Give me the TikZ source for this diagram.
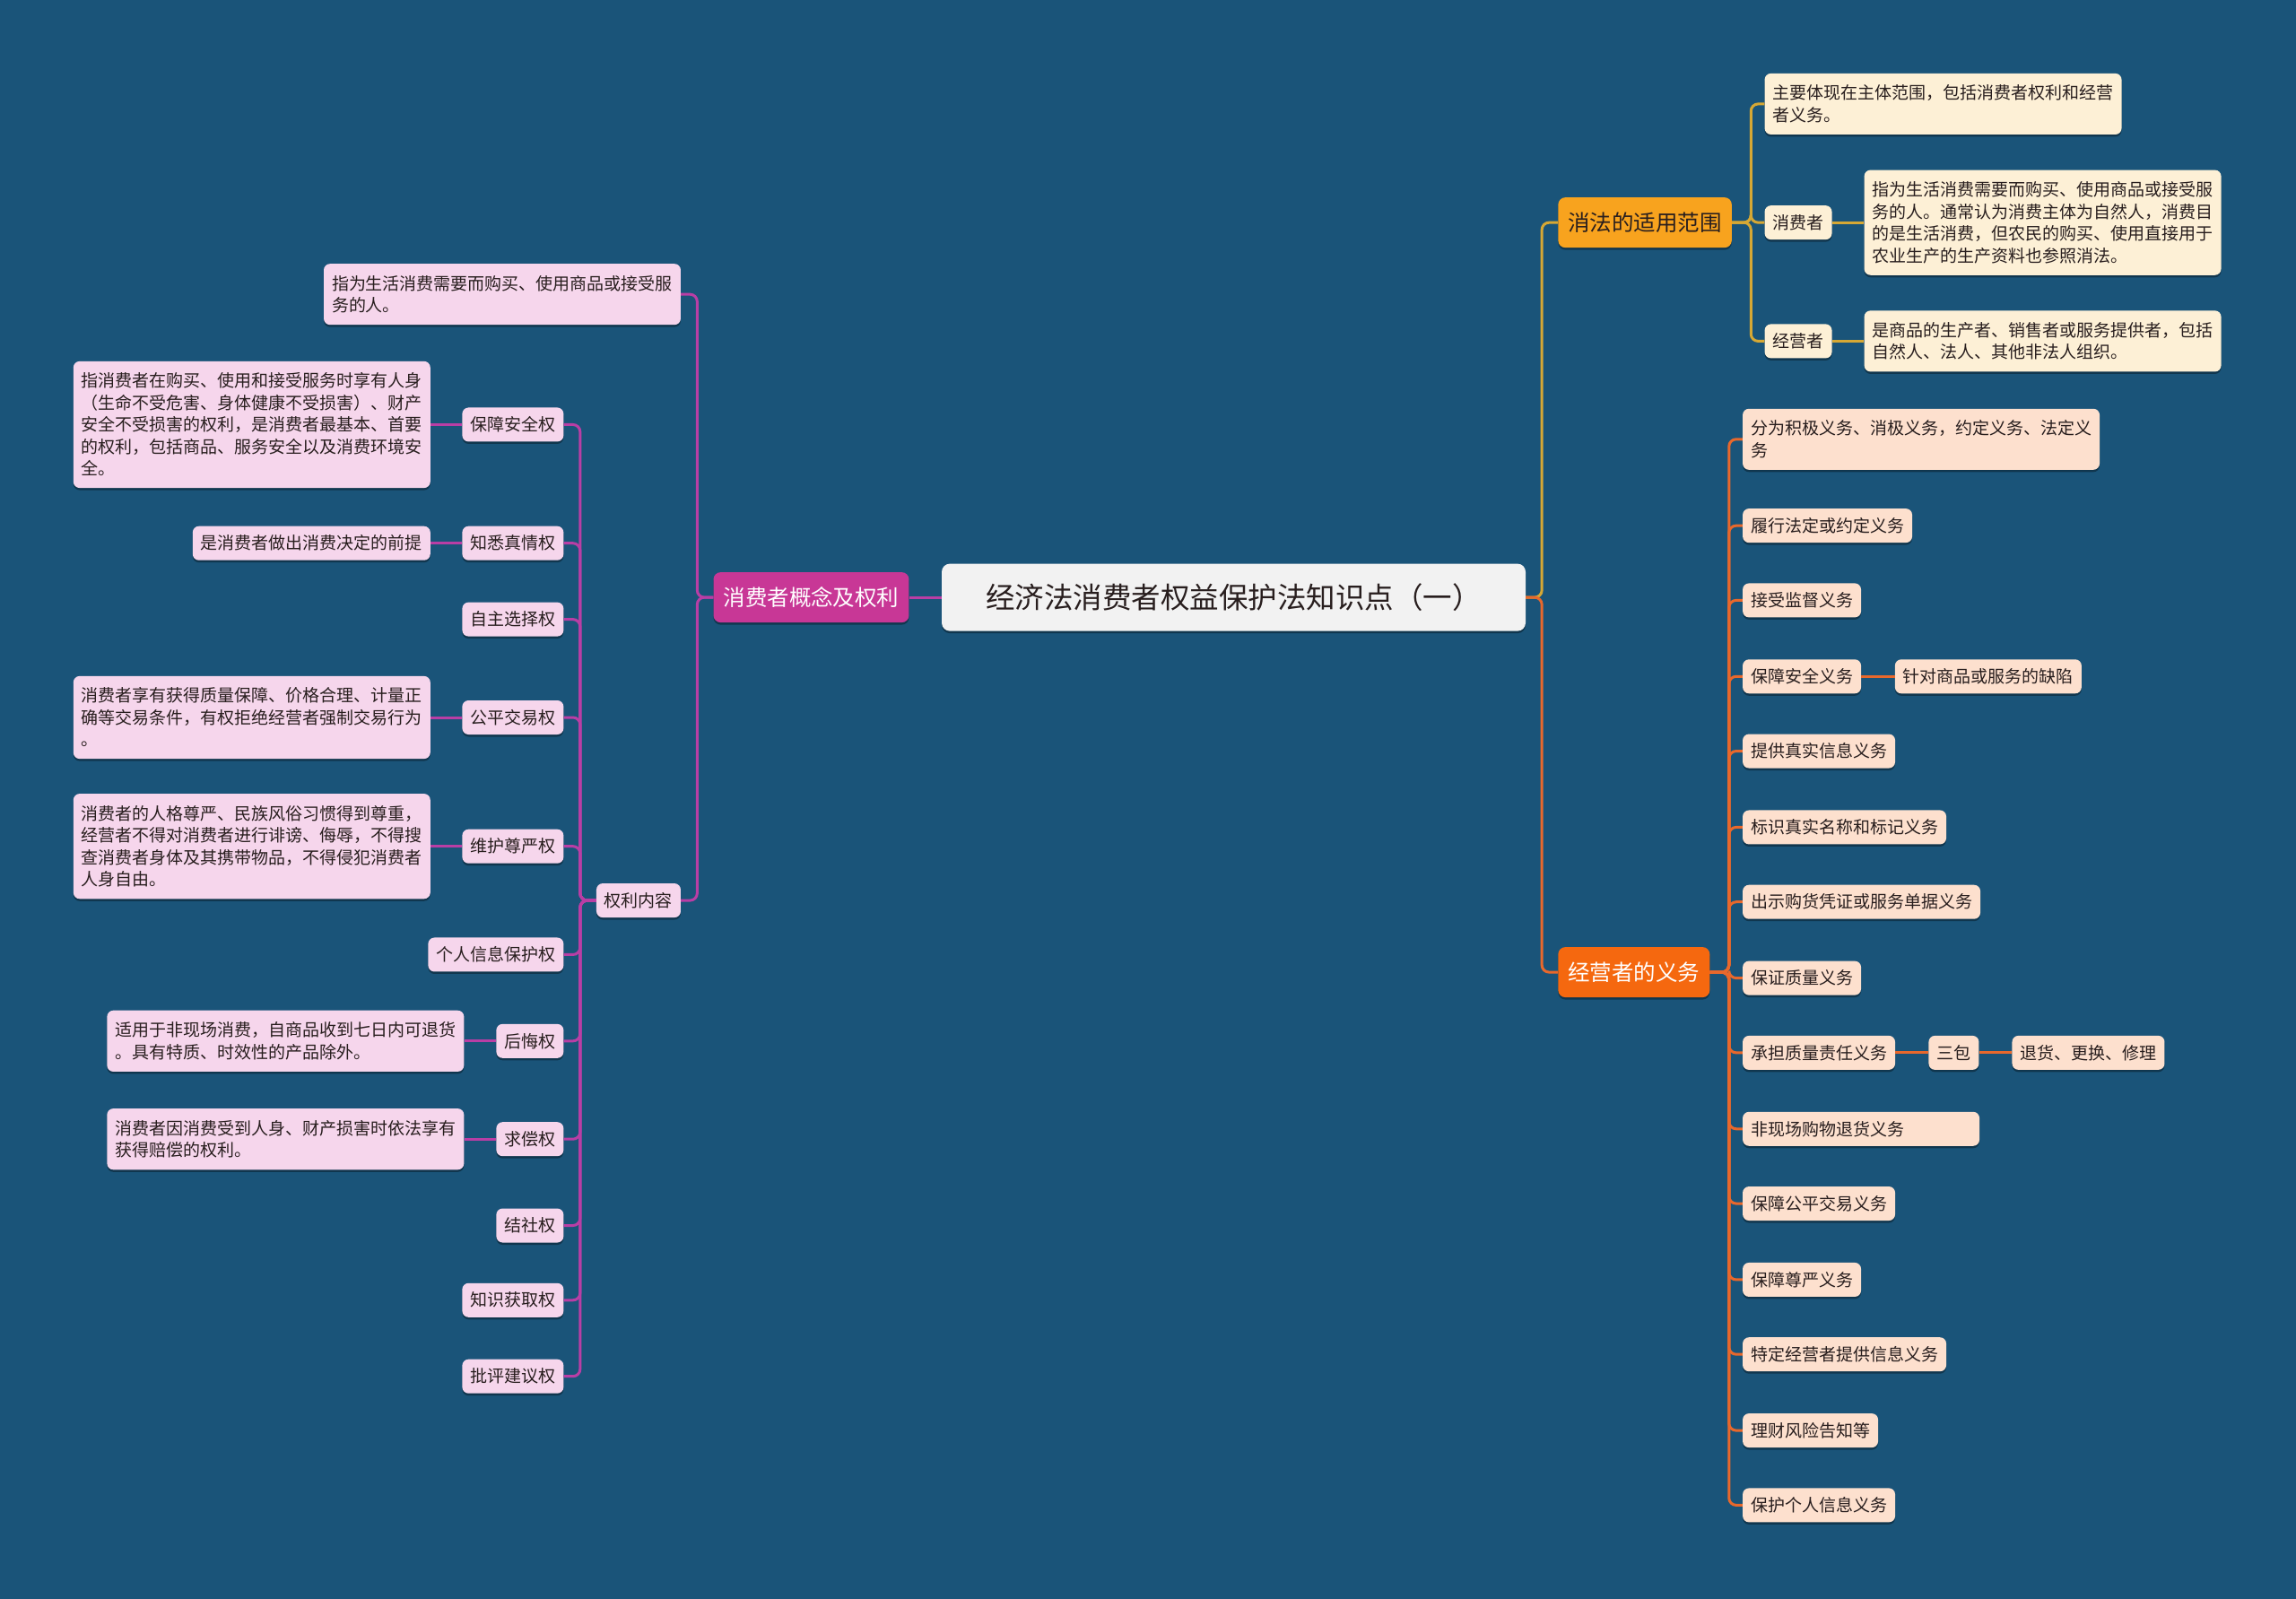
\documentclass[tikz,border=0pt]{standalone}
\usepackage{fontspec}
\setmainfont{Noto Sans CJK SC}
\usetikzlibrary{shadows}
\definecolor{bg}{RGB}{26,84,121}
\definecolor{magline}{RGB}{185,62,165}
\definecolor{magfill}{RGB}{200,55,150}
\definecolor{pinkfill}{RGB}{246,214,236}
\definecolor{yelline}{RGB}{214,168,52}
\definecolor{yelfill}{RGB}{248,163,30}
\definecolor{creamfill}{RGB}{253,240,214}
\definecolor{orline}{RGB}{232,104,44}
\definecolor{orfill}{RGB}{245,104,15}
\definecolor{peachfill}{RGB}{253,224,206}
\definecolor{txt}{RGB}{40,30,30}
\tikzset{
  shad/.style={drop shadow={shadow xshift=0pt,shadow yshift=-2.5pt,opacity=0.35,fill=black}},
  basebox/.style={rounded corners=7pt, shad, align=left},
  leaf/.style={basebox, inner xsep=9pt, inner ysep=8pt, minimum height=38pt,
    font=\fontsize{19}{24.5}\selectfont, text=txt},
  multi/.style={inner ysep=13pt},
  pleaf/.style={leaf, fill=pinkfill},
  cleaf/.style={leaf, fill=creamfill},
  oleaf/.style={leaf, fill=peachfill},
  branch/.style={basebox, rounded corners=8pt, inner xsep=11pt, minimum height=56pt,
    font=\fontsize{24.5}{30}\selectfont},
  centre/.style={basebox, rounded corners=9pt, fill=black!5, minimum width=651pt,
    minimum height=75pt, font=\fontsize{32.5}{36}\selectfont, text=txt, align=center},
  mline/.style={draw=magline, line width=3pt, rounded corners=8pt},
  yline/.style={draw=yelline, line width=3pt, rounded corners=8pt},
  oline/.style={draw=orline, line width=3pt, rounded corners=8pt},
}
\begin{document}
\begin{tikzpicture}[x=1.6327pt,y=-1.6327pt]
\fill[bg] (0,0) rectangle (1568,1092);
\useasboundingbox (0,0) rectangle (1568,1092);

% centre and main branches
\node[centre] (ctr) at (842.5,408) {经济法消费者权益保护法知识点（一）};
\node[branch, fill=magfill, text=white] (L0) at (554,408) {消费者概念及权利};
\node[branch, fill=yelfill, text=txt, anchor=west] (R1) at (1064,152) {消法的适用范围};
\node[branch, fill=orfill, text=white, anchor=west] (R2) at (1064,664) {经营者的义务};

% left side
\node[pleaf, multi, anchor=east] (Ltop) at (465,201) {指为生活消费需要而购买、使用商品或接受服\\务的人。};
\node[pleaf, anchor=east] (Lrc) at (465,615) {权利内容};

\node[pleaf, anchor=east] (c1) at (385,290) {保障安全权};
\node[pleaf, anchor=east] (c2) at (385,371) {知悉真情权};
\node[pleaf, anchor=east] (c3) at (385,423) {自主选择权};
\node[pleaf, anchor=east] (c4) at (385,490) {公平交易权};
\node[pleaf, anchor=east] (c5) at (385,578) {维护尊严权};
\node[pleaf, anchor=east] (c6) at (385,652) {个人信息保护权};
\node[pleaf, anchor=east] (c7) at (385,711) {后悔权};
\node[pleaf, anchor=east] (c8) at (385,778) {求偿权};
\node[pleaf, anchor=east] (c9) at (385,837) {结社权};
\node[pleaf, anchor=east] (c10) at (385,888) {知识获取权};
\node[pleaf, anchor=east] (c11) at (385,940) {批评建议权};

\node[pleaf, multi, anchor=east] (d1) at (294,290) {指消费者在购买、使用和接受服务时享有人身\\（生命不受危害、身体健康不受损害）、财产\\安全不受损害的权利，是消费者最基本、首要\\的权利，包括商品、服务安全以及消费环境安\\全。};
\node[pleaf, anchor=east] (d2) at (294,371) {是消费者做出消费决定的前提};
\node[pleaf, multi, anchor=east] (d4) at (294,490) {消费者享有获得质量保障、价格合理、计量正\\确等交易条件，有权拒绝经营者强制交易行为\\。};
\node[pleaf, multi, anchor=east] (d5) at (294,578) {消费者的人格尊严、民族风俗习惯得到尊重，\\经营者不得对消费者进行诽谤、侮辱，不得搜\\查消费者身体及其携带物品，不得侵犯消费者\\人身自由。};
\node[pleaf, multi, anchor=east] (d7) at (317,711) {适用于非现场消费，自商品收到七日内可退货\\。具有特质、时效性的产品除外。};
\node[pleaf, multi, anchor=east] (d8) at (317,778) {消费者因消费受到人身、财产损害时依法享有\\获得赔偿的权利。};

% right side: scope
\node[cleaf, multi, anchor=west] (s1) at (1205,71) {主要体现在主体范围，包括消费者权利和经营\\者义务。};
\node[cleaf, anchor=west] (s2) at (1205,152) {消费者};
\node[cleaf, anchor=west] (s3) at (1205,233) {经营者};
\node[cleaf, multi, anchor=west] (s2d) at (1273,152) {指为生活消费需要而购买、使用商品或接受服\\务的人。通常认为消费主体为自然人，消费目\\的是生活消费，但农民的购买、使用直接用于\\农业生产的生产资料也参照消法。};
\node[cleaf, multi, anchor=west] (s3d) at (1273,233) {是商品的生产者、销售者或服务提供者，包括\\自然人、法人、其他非法人组织。};

% right side: obligations
\node[oleaf, multi, anchor=west] (o1) at (1190,300) {分为积极义务、消极义务，约定义务、法定义\\务};
\node[oleaf, anchor=west] (o2) at (1190,359) {履行法定或约定义务};
\node[oleaf, anchor=west] (o3) at (1190,410) {接受监督义务};
\node[oleaf, anchor=west] (o4) at (1190,462) {保障安全义务};
\node[oleaf, anchor=west] (o5) at (1190,513) {提供真实信息义务};
\node[oleaf, anchor=west] (o6) at (1190,565) {标识真实名称和标记义务};
\node[oleaf, anchor=west] (o7) at (1190,616) {出示购货凭证或服务单据义务};
\node[oleaf, anchor=west] (o8) at (1190,668) {保证质量义务};
\node[oleaf, anchor=west] (o9) at (1190,719) {承担质量责任义务};
\node[oleaf, anchor=west, text width=246pt] (o10) at (1190,771) {非现场购物退货义务};
\node[oleaf, anchor=west] (o11) at (1190,822) {保障公平交易义务};
\node[oleaf, anchor=west] (o12) at (1190,874) {保障尊严义务};
\node[oleaf, anchor=west] (o13) at (1190,925) {特定经营者提供信息义务};
\node[oleaf, anchor=west] (o14) at (1190,977) {理财风险告知等};
\node[oleaf, anchor=west] (o15) at (1190,1028) {保护个人信息义务};
\node[oleaf, anchor=west] (o4a) at (1294,462) {针对商品或服务的缺陷};
\node[oleaf, anchor=west] (o9a) at (1317,719) {三包};
\node[oleaf, anchor=west] (o9b) at (1374,719) {退货、更换、修理};

% connectors
\draw[mline] (ctr.west) -- (L0.east);
\draw[mline] (L0.west) -- ++(-11,0) |- (Ltop.east);
\draw[mline] (L0.west) -- ++(-11,0) |- (Lrc.east);
\foreach \c in {c1,c2,c3,c4,c5,c6,c7,c8,c9,c10,c11}{
  \draw[mline] (Lrc.west) -- ++(-11,0) |- (\c.east);
}
\draw[mline] (c1.west) -- (d1.east);
\draw[mline] (c2.west) -- (d2.east);
\draw[mline] (c4.west) -- (d4.east);
\draw[mline] (c5.west) -- (d5.east);
\draw[mline] (c7.west) -- (d7.east);
\draw[mline] (c8.west) -- (d8.east);

\draw[yline] (ctr.east) -- ++(11,0) |- (R1.west);
\draw[oline] (ctr.east) -- ++(11,0) |- (R2.west);
\foreach \c in {s1,s2,s3}{
  \draw[yline] (R1.east) -- ++(13,0) |- (\c.west);
}
\draw[yline] (s2.east) -- (s2d.west);
\draw[yline] (s3.east) -- (s3d.west);
\foreach \c in {o1,o2,o3,o4,o5,o6,o7,o8,o9,o10,o11,o12,o13,o14,o15}{
  \draw[oline] (R2.east) -- ++(13,0) |- (\c.west);
}
\draw[oline] (o4.east) -- (o4a.west);
\draw[oline] (o9.east) -- (o9a.west);
\draw[oline] (o9a.east) -- (o9b.west);
\end{tikzpicture}
\end{document}
